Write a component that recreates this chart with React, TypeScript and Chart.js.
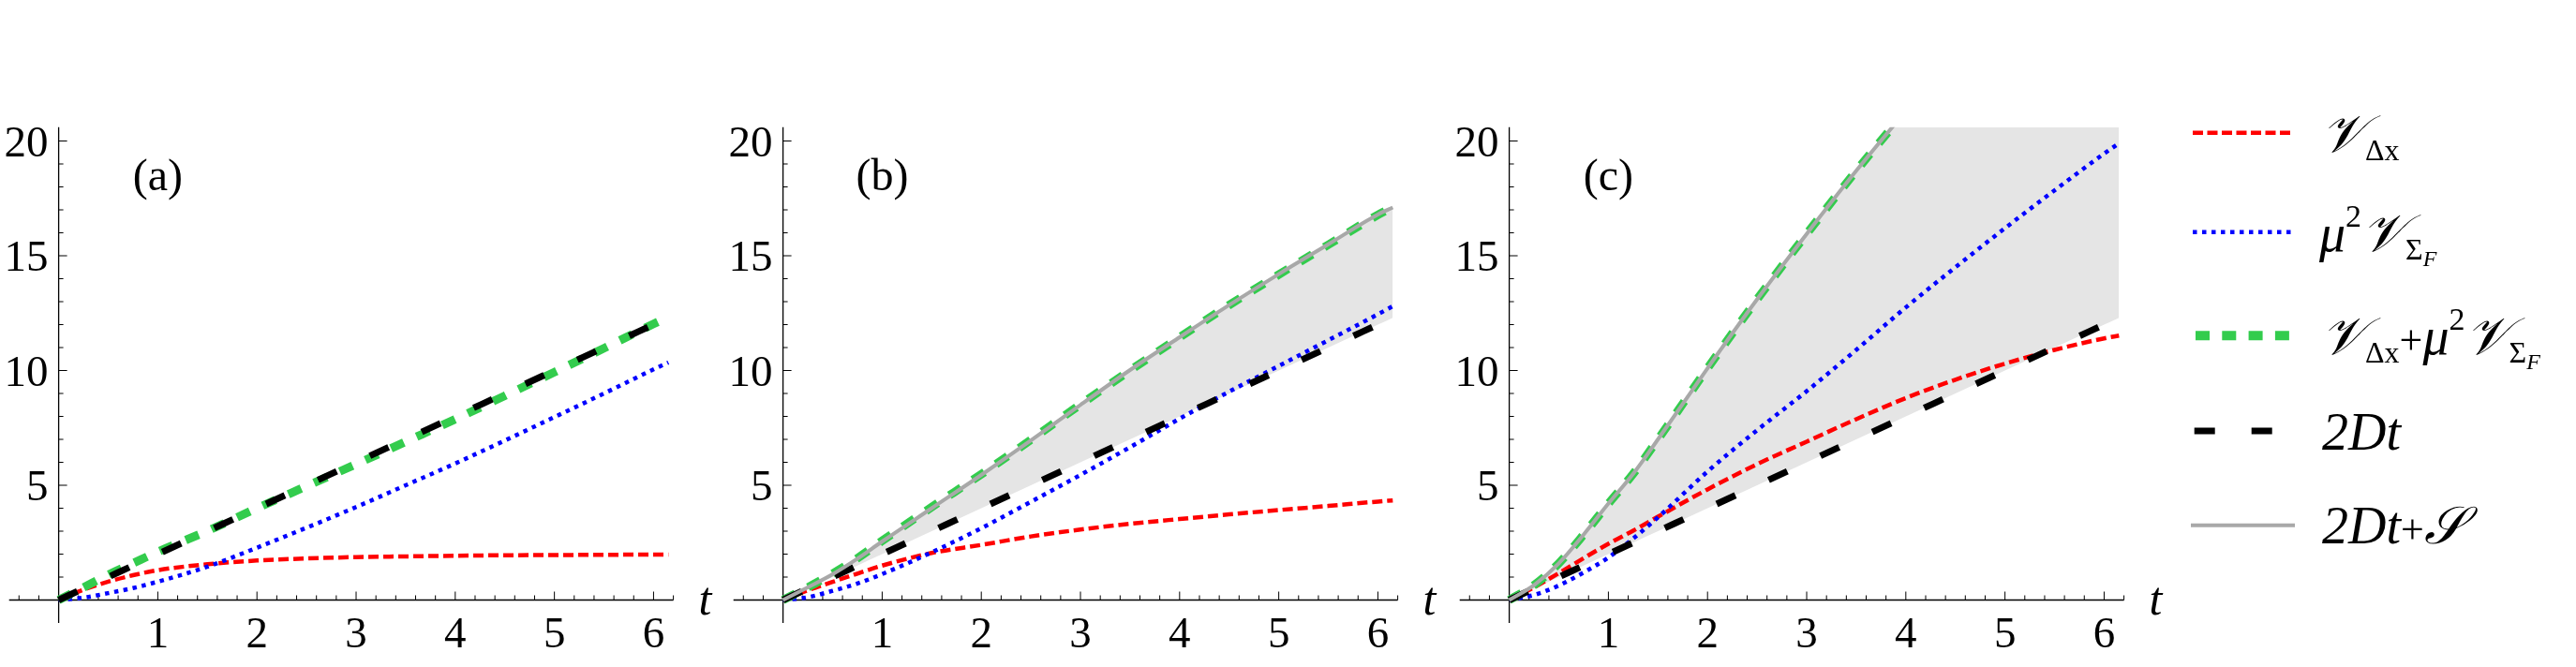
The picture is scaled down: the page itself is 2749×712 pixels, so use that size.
import React, { useEffect, useRef } from 'react';
import { Chart, registerables } from 'chart.js';

Chart.register(...registerables);

// t samples used by panels (a) and (b)
const tAB = [0, 0.25, 0.5, 0.75, 1, 1.5, 2, 2.5, 3, 3.5, 4, 4.5, 5, 5.5, 6, 6.15];
// t samples used by panel (c)
const tC = [0, 0.25, 0.5, 0.75, 1, 1.25, 1.5, 2, 2.5, 3, 3.5, 4, 4.5, 5, 5.5, 6, 6.15];

// panel (a)
const redA = [0, 0.45, 0.8, 1.08, 1.3, 1.56, 1.72, 1.81, 1.87, 1.9, 1.93, 1.95, 1.96, 1.97, 1.98, 1.98];
const blueA = [0, 0.1, 0.3, 0.52, 0.8, 1.45, 2.28, 3.15, 4.05, 5.0, 5.95, 6.95, 7.97, 9.0, 10.05, 10.35];
const greenA = [0, 0.55, 1.1, 1.6, 2.1, 3.01, 4.0, 4.96, 5.92, 6.9, 7.88, 8.9, 9.93, 10.97, 12.03, 12.33];
const blackA = [0, 0.5, 1, 1.5, 2, 3, 4, 5, 6, 7, 8, 9, 10, 11, 12, 12.3];

// panel (b)
const redB = [0, 0.42, 0.79, 1.15, 1.5, 2.05, 2.4, 2.77, 3.07, 3.32, 3.53, 3.73, 3.92, 4.1, 4.29, 4.34];
const blueB = [0, 0.12, 0.4, 0.72, 1.13, 2.08, 3.13, 4.28, 5.45, 6.66, 7.9, 9.08, 10.2, 11.32, 12.45, 12.8];
const greenB = [0, 0.55, 1.15, 1.82, 2.58, 4.05, 5.48, 6.98, 8.52, 10.0, 11.45, 12.85, 14.18, 15.48, 16.78, 17.12];
const blackB = [0, 0.5, 1, 1.5, 2, 3, 4, 5, 6, 7, 8, 9, 10, 11, 12, 12.3];
const grayB = [0, 0.55, 1.12, 1.8, 2.55, 4.0, 5.45, 6.95, 8.5, 10.02, 11.45, 12.85, 14.2, 15.5, 16.8, 17.1];

// panel (c)
const redC = [0, 0.55, 1.17, 1.82, 2.45, 3.02, 3.63, 4.82, 5.92, 6.9, 7.88, 8.8, 9.6, 10.3, 10.9, 11.4, 11.52];
const blueC = [0, 0.22, 0.63, 1.2, 1.85, 2.68, 3.6, 5.6, 7.4, 9.1, 10.9, 12.75, 14.5, 16.2, 17.85, 19.45, 19.9];
const greenC = [0, 0.65, 1.6, 2.85, 4.2, 5.5, 7.0, 10.1, 13.1, 15.95, 18.7, 21.3, 23.8, 26.3, 28.7, 31.1, 31.8];
const blackC = [0, 0.5, 1, 1.5, 2, 2.5, 3, 4, 5, 6, 7, 8, 9, 10, 11, 12, 12.3];
const grayC = [0, 0.65, 1.6, 2.85, 4.2, 5.5, 7.0, 10.1, 13.1, 15.95, 18.7, 21.3, 23.8, 26.3, 28.7, 31.1, 31.8];

const xTicks = [1, 2, 3, 4, 5, 6];
const yTicks = [5, 10, 15, 20];

const X_MIN = -0.5;
const X_MAX = 6.2;
const Y_MIN = -1;
const Y_MAX = 20.6;

const RED = '#ff0000';
const BLUE = '#0000ff';
const GREEN = '#33cc4d';
const BLACK = '#000000';
const GRAY = '#a8a8a8';
const BAND = '#e5e5e5';

const SERIF = '"Liberation Serif", "Times New Roman", serif';

const CW = 814;
const CH = 712;

const pts = (t: number[], v: number[]) => t.map((x, i) => ({ x, y: v[i] }));

const axesPlugin = (label: string) => ({
  id: 'mmaAxes',
  beforeDatasetsDraw(chart: any) {
    const { ctx } = chart;
    const sx = chart.scales.x;
    const sy = chart.scales.y;
    const x0 = sx.getPixelForValue(0);
    const y0 = sy.getPixelForValue(0);
    ctx.save();
    ctx.strokeStyle = '#000';
    ctx.lineWidth = 1.3;
    ctx.beginPath();
    ctx.moveTo(sx.getPixelForValue(X_MIN), y0);
    ctx.lineTo(sx.getPixelForValue(X_MAX), y0);
    ctx.moveTo(x0, sy.getPixelForValue(Y_MIN));
    ctx.lineTo(x0, sy.getPixelForValue(Y_MAX));
    ctx.stroke();

    ctx.lineWidth = 1;
    ctx.beginPath();
    // minor ticks on t
    for (let k = -2; k <= 31; k++) {
      if (k % 5 === 0) continue;
      const px = sx.getPixelForValue(k / 5);
      ctx.moveTo(px, y0);
      ctx.lineTo(px, y0 - 5);
    }
    xTicks.forEach((v) => {
      const px = sx.getPixelForValue(v);
      ctx.moveTo(px, y0);
      ctx.lineTo(px, y0 - 9);
    });
    // minor ticks on y
    for (let k = 1; k <= 20; k++) {
      if (k % 5 === 0) continue;
      const py = sy.getPixelForValue(k);
      ctx.moveTo(x0, py);
      ctx.lineTo(x0 + 5, py);
    }
    yTicks.forEach((v) => {
      const py = sy.getPixelForValue(v);
      ctx.moveTo(x0, py);
      ctx.lineTo(x0 + 9, py);
    });
    ctx.stroke();

    ctx.fillStyle = '#000';
    ctx.font = `47px ${SERIF}`;
    ctx.textBaseline = 'alphabetic';
    ctx.textAlign = 'center';
    xTicks.forEach((v) => ctx.fillText(String(v), sx.getPixelForValue(v), y0 + 50));
    ctx.textAlign = 'right';
    yTicks.forEach((v) => ctx.fillText(String(v), x0 - 11, sy.getPixelForValue(v) + 16));

    ctx.font = `48px ${SERIF}`;
    ctx.textAlign = 'center';
    ctx.fillText(label, sx.getPixelForValue(1), sy.getPixelForValue(17.85));

    ctx.font = `italic 50px ${SERIF}`;
    ctx.fillText('t', sx.getPixelForValue(6.52), y0 + 15);
    ctx.restore();
  },
});

interface PanelProps {
  label: string;
  left: number;
  t: number[];
  red: number[];
  blue: number[];
  green: number[];
  black: number[];
  gray?: number[];
}

const Panel: React.FC<PanelProps> = ({ label, left, t, red, blue, green, black, gray }) => {
  const chartRef = useRef<HTMLCanvasElement | null>(null);

  useEffect(() => {
    let chartInstance: Chart | null = null;
    if (chartRef.current) {
      const datasets: any[] = [];
      // first dataset is drawn on top
      if (gray) {
        datasets.push({
          label: '2Dt+S',
          data: pts(t, gray),
          borderColor: GRAY,
          borderWidth: 4,
          backgroundColor: BAND,
          fill: { target: 1 },
        });
      }
      datasets.push({
        label: '2Dt',
        data: pts(t, black),
        borderColor: BLACK,
        borderWidth: 7,
        borderDash: [22, 39],
        fill: false,
      });
      datasets.push({
        label: 'V_dx + mu^2 V_SigmaF',
        data: pts(t, green),
        borderColor: GREEN,
        borderWidth: 9,
        borderDash: [15, 15],
        fill: false,
      });
      datasets.push({
        label: 'mu^2 V_SigmaF',
        data: pts(t, blue),
        borderColor: BLUE,
        borderWidth: 4.5,
        borderDash: [4.5, 5.5],
        fill: false,
      });
      datasets.push({
        label: 'V_dx',
        data: pts(t, red),
        borderColor: RED,
        borderWidth: 4.5,
        borderDash: [11, 5],
        fill: false,
      });

      chartInstance = new Chart(chartRef.current, {
        type: 'line',
        data: { datasets },
        options: {
          animation: false,
          responsive: false,
          events: [],
          layout: { padding: { left: 9.7, right: 95.4, top: 135.8, bottom: 47 } },
          elements: {
            point: { radius: 0 },
            line: { tension: 0.4, cubicInterpolationMode: 'monotone', borderCapStyle: 'butt' },
          },
          scales: {
            x: { type: 'linear', min: X_MIN, max: X_MAX, display: false },
            y: { type: 'linear', min: Y_MIN, max: Y_MAX, display: false },
          },
          plugins: {
            legend: { display: false },
            tooltip: { enabled: false },
            filler: { drawTime: 'beforeDatasetsDraw' },
          },
        } as any,
        plugins: [axesPlugin(label)],
      });
    }
    return () => {
      if (chartInstance) chartInstance.destroy();
    };
  }, [label, t, red, blue, green, black, gray]);

  return (
    <canvas
      ref={chartRef}
      width={CW}
      height={CH}
      style={{ position: 'absolute', left, top: 0, width: CW, height: CH }}
    />
  );
};

const Legend: React.FC = () => {
  const x1 = 2340;
  const x2 = 2447;
  const big = 56;
  return (
    <svg
      width={2749}
      height={712}
      style={{ position: 'absolute', left: 0, top: 0, pointerEvents: 'none' }}
      fontFamily={SERIF}
    >
      <line x1={x1} y1={141.7} x2={x2} y2={141.7} stroke={RED} strokeWidth={4.5} strokeDasharray="11 4.5" />
      <line x1={x1} y1={247.7} x2={x2} y2={247.7} stroke={BLUE} strokeWidth={4.5} strokeDasharray="4.5 5.5" />
      <line x1={2343} y1={358.3} x2={2443} y2={358.3} stroke={GREEN} strokeWidth={10} strokeDasharray="15 13.3" />
      <line x1={2341.7} y1={460} x2={2425} y2={460} stroke={BLACK} strokeWidth={7} strokeDasharray="22 39" />
      <line x1={2338} y1={560.7} x2={2449} y2={560.7} stroke={GRAY} strokeWidth={4} />

      <text x={2477} y={162} fontSize={big} fontStyle="italic">
        𝒱
        <tspan fontSize={32} fontStyle="normal" dy={9}>Δx</tspan>
      </text>
      <text x={2475} y={268} fontSize={big} fontStyle="italic">
        μ
        <tspan fontSize={34} fontStyle="normal" dy={-26}>2</tspan>
        <tspan fontSize={big} dy={26}>𝒱</tspan>
        <tspan fontSize={32} fontStyle="normal" dy={9}>Σ</tspan>
        <tspan fontSize={24} dy={7}>F</tspan>
      </text>
      <text x={2477} y={378} fontSize={big} fontStyle="italic">
        𝒱
        <tspan fontSize={32} fontStyle="normal" dy={9}>Δx</tspan>
        <tspan fontSize={44} fontStyle="normal" dy={-9}>+</tspan>
        <tspan fontSize={big}>μ</tspan>
        <tspan fontSize={34} fontStyle="normal" dy={-26}>2</tspan>
        <tspan fontSize={big} dy={26}>𝒱</tspan>
        <tspan fontSize={32} fontStyle="normal" dy={9}>Σ</tspan>
        <tspan fontSize={24} dy={7}>F</tspan>
      </text>
      <text x={2478} y={480} fontSize={big} fontStyle="italic">2Dt</text>
      <text x={2478} y={580} fontSize={big} fontStyle="italic">
        2Dt
        <tspan fontSize={44} fontStyle="normal">+</tspan>
        <tspan fontSize={big}>𝒮</tspan>
      </text>
    </svg>
  );
};

const App: React.FC = () => {
  return (
    <div style={{ position: 'absolute', left: 0, top: 0, width: 2749, height: 712, background: '#ffffff', overflow: 'hidden' }}>
      <Panel label="(a)" left={0} t={tAB} red={redA} blue={blueA} green={greenA} black={blackA} />
      <Panel label="(b)" left={772.9} t={tAB} red={redB} blue={blueB} green={greenB} black={blackB} gray={grayB} />
      <Panel label="(c)" left={1548} t={tC} red={redC} blue={blueC} green={greenC} black={blackC} gray={grayC} />
      <Legend />
    </div>
  );
};

export default App;
